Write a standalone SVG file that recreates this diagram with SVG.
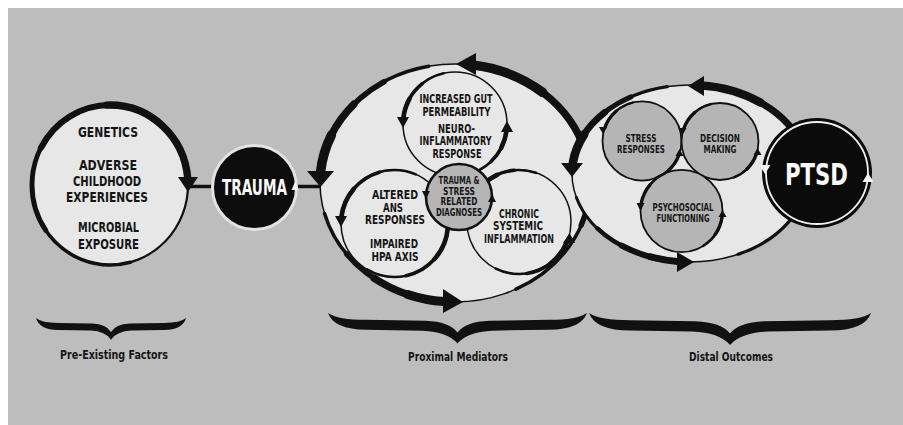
<svg xmlns="http://www.w3.org/2000/svg" xmlns:xlink="http://www.w3.org/1999/xlink" width="903" height="425" viewBox="0 0 903 425">
  <style>
    .pale{fill:#e7e7e7;stroke:#111;stroke-width:1.5}
    .grey{fill:#b5b5b5;stroke:#111;stroke-width:1.8}
    .arc{fill:none;stroke:#111;stroke-linecap:round}
    .head{fill:#111}
    .whead{fill:#f4f4f4}
    .t{font-family:"Liberation Sans Narrow","DejaVu Sans Condensed","Liberation Sans",sans-serif;font-weight:bold;text-anchor:middle;fill:#151515}
    .w{fill:#fafafa}
    .link{stroke:#111;stroke-width:3.5;fill:none}
  </style>
  <defs>
    <!-- closed outlines, each starting at its rightmost point and running clockwise; pathLength 360 lets dashes pick angular ranges -->
    <path id="eL" pathLength="360" d="M188,185 A78,80 0 1 1 32,185 A78,80 0 1 1 188,185 Z"/>
    <path id="eM" pathLength="360" d="M590,183 A135,119 0 1 1 320,183 A135,119 0 1 1 590,183 Z"/>
    <path id="eR" pathLength="360" d="M808,173.5 A118,88.5 0 1 1 572,173.5 A118,88.5 0 1 1 808,173.5 Z"/>
    <path id="cT" pathLength="360" d="M507,124 A52,52 0 1 1 403,124 A52,52 0 1 1 507,124 Z"/>
    <path id="cL" pathLength="360" d="M448,223.5 A53.5,53.5 0 1 1 341,223.5 A53.5,53.5 0 1 1 448,223.5 Z"/>
    <path id="cR" pathLength="360" d="M571,222 A52,52 0 1 1 467,222 A52,52 0 1 1 571,222 Z"/>
    <path id="cS" pathLength="360" d="M681.5,141 A39.5,39.5 0 1 1 602.5,141 A39.5,39.5 0 1 1 681.5,141 Z"/>
    <path id="cD" pathLength="360" d="M758.5,141.5 A38.5,38.5 0 1 1 681.5,141.5 A38.5,38.5 0 1 1 758.5,141.5 Z"/>
    <path id="cP" pathLength="360" d="M722.5,211 A41,41 0 1 1 640.5,211 A41,41 0 1 1 722.5,211 Z"/>
    <!-- horizontal curly brace, 260 wide, tip about 31 below the ends -->
    <path id="brace" d="M0,0 Q10,7 38,7 L98,8 Q122,9 130,20 Q138,9 162,8 L222,7 Q250,7 260,0 Q254,17 222,17 L165,18 Q140,19 130,31 Q120,19 95,18 L38,17 Q6,17 0,0 Z"/>
  </defs>

  <rect width="903" height="425" fill="#ffffff"/>
  <rect x="8" y="8" width="895" height="417" fill="#bdbdbd"/>

  <!-- stage braces and captions -->
  <g id="stages">
    <use href="#brace" fill="#111" transform="translate(36,318) scale(0.577,0.7)"/>
    <use href="#brace" fill="#111" transform="translate(328,313) scale(0.996,0.98)"/>
    <use href="#brace" fill="#111" transform="translate(589,313) scale(1.085,1.03)"/>
    <text class="t" x="114" y="359" font-size="13" textLength="108" lengthAdjust="spacingAndGlyphs">Pre-Existing Factors</text>
    <text class="t" x="458" y="361" font-size="13" textLength="100" lengthAdjust="spacingAndGlyphs">Proximal Mediators</text>
    <text class="t" x="731" y="361" font-size="13" textLength="84" lengthAdjust="spacingAndGlyphs">Distal Outcomes</text>
  </g>

  <g id="connectors">
    <line class="link" x1="188" y1="186.5" x2="213" y2="186.5"/>
    <line class="link" x1="296" y1="186.5" x2="321" y2="186.5"/>
  </g>

  <!-- pre-existing factors -->
  <g id="pre-existing-factors">
    <use href="#eL" class="pale" style="stroke-width:2.2"/>
    <use href="#eL" class="arc" style="stroke-width:3.6;stroke-dasharray:280 80;stroke-dashoffset:-75"/>
    <use href="#eL" class="arc" style="stroke-width:4.9;stroke-dasharray:210 150;stroke-dashoffset:-145"/>
    <use href="#eL" class="arc" style="stroke-width:6.2;stroke-dasharray:147 213;stroke-dashoffset:-208"/>
    <use href="#eL" class="arc" style="stroke-width:7.4;stroke-dasharray:87.5 272.5;stroke-dashoffset:-267.5"/>
    <polygon class="head" points="178,177 198,177 188,192"/>
    <text class="t" x="108" y="137" font-size="14.5" textLength="60" lengthAdjust="spacingAndGlyphs">GENETICS</text>
    <text class="t" x="108" y="170" font-size="14.5" textLength="58" lengthAdjust="spacingAndGlyphs">ADVERSE</text>
    <text class="t" x="107" y="186" font-size="14.5" textLength="68" lengthAdjust="spacingAndGlyphs">CHILDHOOD</text>
    <text class="t" x="107" y="202" font-size="14.5" textLength="82" lengthAdjust="spacingAndGlyphs">EXPERIENCES</text>
    <text class="t" x="108.5" y="232" font-size="14.5" textLength="61" lengthAdjust="spacingAndGlyphs">MICROBIAL</text>
    <text class="t" x="108.5" y="248.5" font-size="14.5" textLength="61" lengthAdjust="spacingAndGlyphs">EXPOSURE</text>
  </g>

  <!-- trauma -->
  <g id="trauma">
    <circle cx="254.5" cy="187.5" r="42" fill="#0d0d0d" stroke="#e3e3e3" stroke-width="3"/>
    <polygon class="whead" points="291.5,190 298.5,190 295,182"/>
    <text class="t w" x="254.5" y="195" font-size="21" textLength="65" lengthAdjust="spacingAndGlyphs">TRAUMA</text>
  </g>

  <!-- proximal mediators cycle -->
  <g id="proximal-mediators">
    <use href="#eM" class="pale"/>
    <use href="#eM" class="arc" style="stroke-width:3.5;stroke-dasharray:143.2 216.8;stroke-dashoffset:-278.5"/>
    <use href="#eM" class="arc" style="stroke-width:5.5;stroke-dasharray:101.1 258.9;stroke-dashoffset:-278.5"/>
    <use href="#eM" class="arc" style="stroke-width:7.5;stroke-dasharray:67.4 292.6;stroke-dashoffset:-278.5"/>
    <use href="#eM" class="arc" style="stroke-width:9.5;stroke-dasharray:33.7 326.3;stroke-dashoffset:-278.5"/>
    <use href="#eM" class="arc" style="stroke-width:3.5;stroke-dasharray:72.8 287.2;stroke-dashoffset:-185.3"/>
    <use href="#eM" class="arc" style="stroke-width:5.5;stroke-dasharray:51.4 308.6;stroke-dashoffset:-185.3"/>
    <use href="#eM" class="arc" style="stroke-width:7.5;stroke-dasharray:34.3 325.7;stroke-dashoffset:-185.3"/>
    <use href="#eM" class="arc" style="stroke-width:9.5;stroke-dasharray:17.1 342.9;stroke-dashoffset:-185.3"/>
    <use href="#eM" class="arc" style="stroke-width:3.5;stroke-dasharray:71 289;stroke-dashoffset:-95"/>
    <use href="#eM" class="arc" style="stroke-width:5.5;stroke-dasharray:50.1 309.9;stroke-dashoffset:-95"/>
    <use href="#eM" class="arc" style="stroke-width:7.5;stroke-dasharray:33.4 326.6;stroke-dashoffset:-95"/>
    <use href="#eM" class="arc" style="stroke-width:9;stroke-dasharray:16.7 343.3;stroke-dashoffset:-95"/>
    <polygon class="head" points="456,64 476,53 476,75"/>
    <polygon class="head" points="307,171 334,171 320.5,187"/>
    <polygon class="head" points="443,289 443,313 463,302"/>

    <g id="gut-neuroinflammation">
      <use href="#cT" class="pale"/>
      <use href="#cT" class="arc" style="stroke-width:2.6;stroke-dasharray:70.4 289.6;stroke-dashoffset:-187"/>
      <use href="#cT" class="arc" style="stroke-width:3.6;stroke-dasharray:44 316;stroke-dashoffset:-187"/>
      <use href="#cT" class="arc" style="stroke-width:4.6;stroke-dasharray:22 338;stroke-dashoffset:-187"/>
      <use href="#cT" class="arc" style="stroke-width:2.6;stroke-dasharray:61.6 298.4;stroke-dashoffset:-8"/>
      <use href="#cT" class="arc" style="stroke-width:3.6;stroke-dasharray:38.5 321.5;stroke-dashoffset:-8"/>
      <use href="#cT" class="arc" style="stroke-width:4.6;stroke-dasharray:19.3 340.7;stroke-dashoffset:-8"/>
      <polygon class="head" points="397,117 409,117 403,128"/>
      <polygon class="head" points="501,132 513,132 507,121"/>
      <text class="t" x="456" y="102.5" font-size="11.5" textLength="73" lengthAdjust="spacingAndGlyphs">INCREASED GUT</text>
      <text class="t" x="456.5" y="115.5" font-size="11.5" textLength="68" lengthAdjust="spacingAndGlyphs">PERMEABILITY</text>
      <text class="t" x="456.5" y="132.5" font-size="11.5" textLength="37" lengthAdjust="spacingAndGlyphs">NEURO-</text>
      <text class="t" x="455.5" y="145" font-size="11.5" textLength="72" lengthAdjust="spacingAndGlyphs">INFLAMMATORY</text>
      <text class="t" x="457" y="157.5" font-size="11.5" textLength="49" lengthAdjust="spacingAndGlyphs">RESPONSE</text>
    </g>

    <g id="ans-hpa">
      <use href="#cL" class="pale"/>
      <use href="#cL" class="arc" style="stroke-width:2.6;stroke-dasharray:106.4 253.6;stroke-dashoffset:-187"/>
      <use href="#cL" class="arc" style="stroke-width:3.6;stroke-dasharray:66.5 293.5;stroke-dashoffset:-187"/>
      <use href="#cL" class="arc" style="stroke-width:4.6;stroke-dasharray:33.3 326.7;stroke-dashoffset:-187"/>
      <use href="#cL" class="arc" style="stroke-width:2.6;stroke-dasharray:116 244;stroke-dashoffset:-5"/>
      <use href="#cL" class="arc" style="stroke-width:3.6;stroke-dasharray:72.5 287.5;stroke-dashoffset:-5"/>
      <use href="#cL" class="arc" style="stroke-width:4.6;stroke-dasharray:36.3 323.7;stroke-dashoffset:-5"/>
      <polygon class="head" points="335,216 347,216 341,227"/>
      <text class="t" x="395" y="199" font-size="11.5" textLength="46" lengthAdjust="spacingAndGlyphs">ALTERED</text>
      <text class="t" x="393" y="211.5" font-size="11.5" textLength="20" lengthAdjust="spacingAndGlyphs">ANS</text>
      <text class="t" x="395" y="224" font-size="11.5" textLength="60" lengthAdjust="spacingAndGlyphs">RESPONSES</text>
      <text class="t" x="394" y="247.5" font-size="11.5" textLength="48" lengthAdjust="spacingAndGlyphs">IMPAIRED</text>
      <text class="t" x="395" y="261" font-size="11.5" textLength="47" lengthAdjust="spacingAndGlyphs">HPA AXIS</text>
    </g>

    <g id="chronic-inflammation">
      <use href="#cR" class="pale"/>
      <use href="#cR" class="arc" style="stroke-width:2.6;stroke-dasharray:64 296;stroke-dashoffset:-225"/>
      <use href="#cR" class="arc" style="stroke-width:3.6;stroke-dasharray:40 320;stroke-dashoffset:-225"/>
      <use href="#cR" class="arc" style="stroke-width:4.6;stroke-dasharray:20 340;stroke-dashoffset:-225"/>
      <use href="#cR" class="arc" style="stroke-width:2.6;stroke-dasharray:93.9 266.1;stroke-dashoffset:-22.6"/>
      <use href="#cR" class="arc" style="stroke-width:3.6;stroke-dasharray:58.7 301.3;stroke-dashoffset:-22.6"/>
      <use href="#cR" class="arc" style="stroke-width:4.6;stroke-dasharray:29.4 330.6;stroke-dashoffset:-22.6"/>
      <polygon class="head" points="563,243 575,243 569.5,233"/>
      <text class="t" x="519" y="217.5" font-size="11.5" textLength="40" lengthAdjust="spacingAndGlyphs">CHRONIC</text>
      <text class="t" x="518" y="230" font-size="11.5" textLength="50" lengthAdjust="spacingAndGlyphs">SYSTEMIC</text>
      <text class="t" x="519" y="242.5" font-size="11.5" textLength="70" lengthAdjust="spacingAndGlyphs">INFLAMMATION</text>
    </g>

    <g id="trauma-stress-diagnoses">
      <circle cx="459" cy="197" r="33" fill="#b5b5b5" stroke="#111" stroke-width="2.6"/>
      <polygon class="head" points="422,191 430,191 426,199"/>
      <polygon class="head" points="488,202 496,202 492,194"/>
      <text class="t" x="459" y="184" font-size="10" textLength="41" lengthAdjust="spacingAndGlyphs">TRAUMA &amp;</text>
      <text class="t" x="459" y="194.5" font-size="10" textLength="32" lengthAdjust="spacingAndGlyphs">STRESS</text>
      <text class="t" x="459" y="205" font-size="10" textLength="37" lengthAdjust="spacingAndGlyphs">RELATED</text>
      <text class="t" x="459" y="215.5" font-size="10" textLength="46" lengthAdjust="spacingAndGlyphs">DIAGNOSES</text>
    </g>
  </g>

  <!-- distal outcomes cycle -->
  <g id="distal-outcomes">
    <use href="#eR" class="pale"/>
    <use href="#eR" class="arc" style="stroke-width:3.2;stroke-dasharray:147 213;stroke-dashoffset:-276"/>
    <use href="#eR" class="arc" style="stroke-width:5;stroke-dasharray:103.8 256.2;stroke-dashoffset:-276"/>
    <use href="#eR" class="arc" style="stroke-width:6.8;stroke-dasharray:69.2 290.8;stroke-dashoffset:-276"/>
    <use href="#eR" class="arc" style="stroke-width:8.4;stroke-dasharray:34.6 325.4;stroke-dashoffset:-276"/>
    <use href="#eR" class="arc" style="stroke-width:3.2;stroke-dasharray:71.2 288.8;stroke-dashoffset:-186.2"/>
    <use href="#eR" class="arc" style="stroke-width:5;stroke-dasharray:50.3 309.7;stroke-dashoffset:-186.2"/>
    <use href="#eR" class="arc" style="stroke-width:6.8;stroke-dasharray:33.5 326.5;stroke-dashoffset:-186.2"/>
    <use href="#eR" class="arc" style="stroke-width:8.6;stroke-dasharray:16.8 343.2;stroke-dashoffset:-186.2"/>
    <use href="#eR" class="arc" style="stroke-width:3;stroke-dasharray:70.7 289.3;stroke-dashoffset:-95.8"/>
    <use href="#eR" class="arc" style="stroke-width:4.5;stroke-dasharray:49.9 310.1;stroke-dashoffset:-95.8"/>
    <use href="#eR" class="arc" style="stroke-width:6;stroke-dasharray:33.3 326.7;stroke-dashoffset:-95.8"/>
    <use href="#eR" class="arc" style="stroke-width:7;stroke-dasharray:16.6 343.4;stroke-dashoffset:-95.8"/>
    <polygon class="head" points="688,86 704,76 704,96"/>
    <polygon class="head" points="561,163 583,163 572,177"/>
    <polygon class="head" points="677,252 677,272 694,262"/>

    <g id="stress-responses">
      <use href="#cS" class="grey"/>
      <use href="#cS" class="arc" style="stroke-width:2.5;stroke-dasharray:57 303;stroke-dashoffset:-199"/>
      <use href="#cS" class="arc" style="stroke-width:3.3;stroke-dasharray:30.4 329.6;stroke-dashoffset:-199"/>
      <use href="#cS" class="arc" style="stroke-width:2.5;stroke-dasharray:47.3 312.7;stroke-dashoffset:-22"/>
      <use href="#cS" class="arc" style="stroke-width:3.3;stroke-dasharray:25.2 334.8;stroke-dashoffset:-22"/>
      <polygon class="head" points="599,127 607,127 603,134"/>
      <polygon class="head" points="675.5,156 683.5,156 679.5,149"/>
      <text class="t" x="641" y="142" font-size="10.5" textLength="31" lengthAdjust="spacingAndGlyphs">STRESS</text>
      <text class="t" x="641" y="152.5" font-size="10.5" textLength="48" lengthAdjust="spacingAndGlyphs">RESPONSES</text>
    </g>

    <g id="decision-making">
      <use href="#cD" class="grey"/>
      <use href="#cD" class="arc" style="stroke-width:2.5;stroke-dasharray:57 303;stroke-dashoffset:-199"/>
      <use href="#cD" class="arc" style="stroke-width:3.3;stroke-dasharray:30.4 329.6;stroke-dashoffset:-199"/>
      <use href="#cD" class="arc" style="stroke-width:2.5;stroke-dasharray:48.8 311.2;stroke-dashoffset:-20"/>
      <use href="#cD" class="arc" style="stroke-width:3.3;stroke-dasharray:26 334;stroke-dashoffset:-20"/>
      <polygon class="head" points="678.5,128 686.5,128 682.5,135"/>
      <polygon class="head" points="753.5,155 761.5,155 757.5,148"/>
      <text class="t" x="720" y="142" font-size="10.5" textLength="40" lengthAdjust="spacingAndGlyphs">DECISION</text>
      <text class="t" x="720" y="152.5" font-size="10.5" textLength="33" lengthAdjust="spacingAndGlyphs">MAKING</text>
    </g>

    <g id="psychosocial-functioning">
      <use href="#cP" class="grey"/>
      <use href="#cP" class="arc" style="stroke-width:2.5;stroke-dasharray:55.5 304.5;stroke-dashoffset:-191"/>
      <use href="#cP" class="arc" style="stroke-width:3.3;stroke-dasharray:29.6 330.4;stroke-dashoffset:-191"/>
      <use href="#cP" class="arc" style="stroke-width:2.5;stroke-dasharray:50 310;stroke-dashoffset:-8.4"/>
      <use href="#cP" class="arc" style="stroke-width:3.3;stroke-dasharray:26.6 333.4;stroke-dashoffset:-8.4"/>
      <polygon class="head" points="636.5,203 644.5,203 640.5,211"/>
      <polygon class="head" points="718.5,217 726.5,217 722.5,210"/>
      <text class="t" x="683" y="210.5" font-size="10.5" textLength="61" lengthAdjust="spacingAndGlyphs">PSYCHOSOCIAL</text>
      <text class="t" x="683" y="221.5" font-size="10.5" textLength="53" lengthAdjust="spacingAndGlyphs">FUNCTIONING</text>
    </g>
  </g>

  <!-- PTSD -->
  <g id="ptsd">
    <circle cx="817" cy="173" r="55" fill="#0b0b0b"/>
    <circle cx="817" cy="173" r="51" fill="none" stroke="#f0f0f0" stroke-width="1.8"/>
    <polygon class="whead" points="759.5,165 770.5,165 765,174"/>
    <polygon class="whead" points="862.5,182 873.5,182 868,173"/>
    <text class="t w" x="816.5" y="185" font-size="30" textLength="63" lengthAdjust="spacingAndGlyphs">PTSD</text>
  </g>
</svg>
